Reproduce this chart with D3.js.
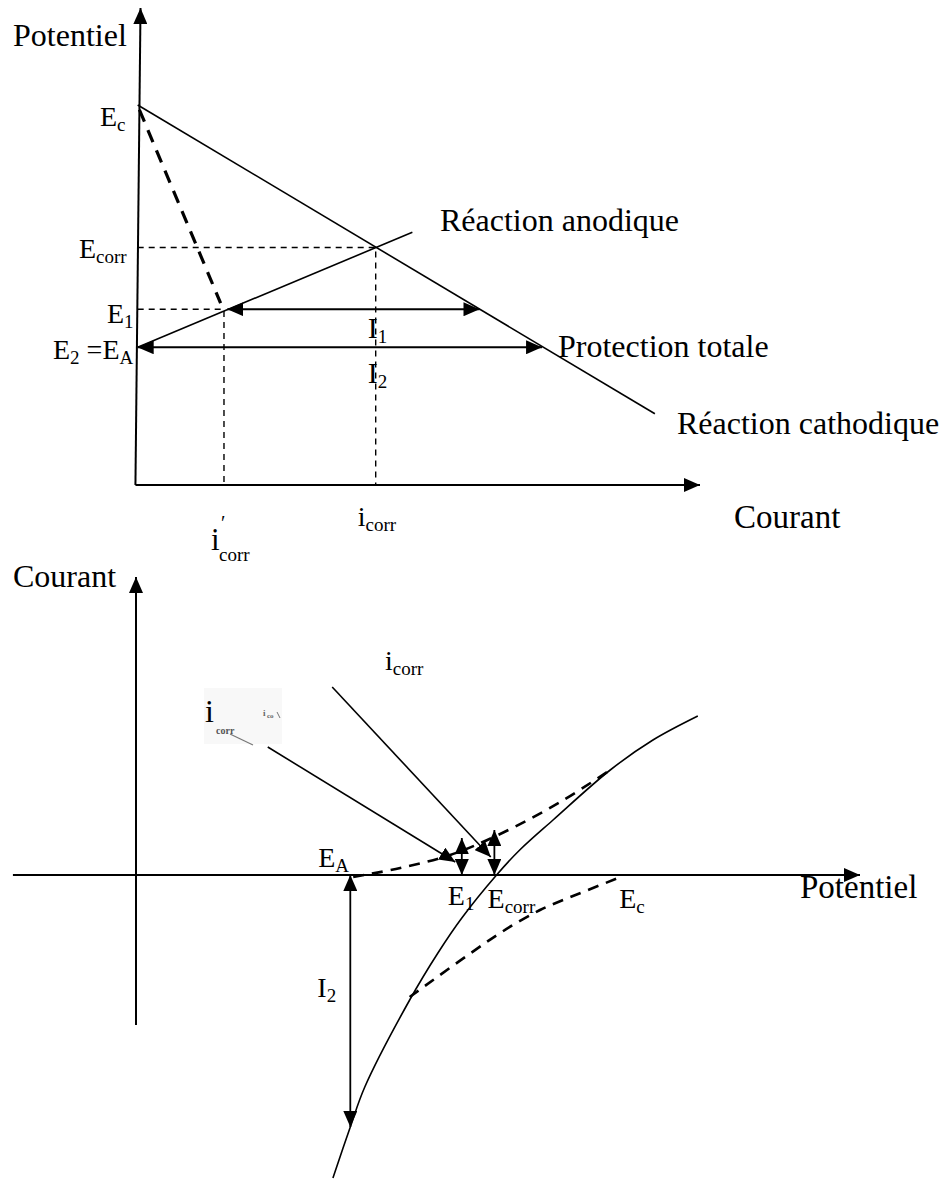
<!DOCTYPE html>
<html>
<head>
<meta charset="utf-8">
<script src="https://cdn.jsdelivr.net/npm/d3@7/dist/d3.min.js"></script>
<style>
  html, body { margin: 0; padding: 0; background: #fff; }
  svg text { font-family: "Liberation Serif", "Times New Roman", serif; fill: #000; }
</style>
</head>
<body>
<svg id="fig" width="944" height="1180"></svg>
<script>
// ---- Upper diagram: potential (E) versus current (i), Evans diagram ----
// Potential levels
const levelNames  = ["Ec", "Ecorr", "E1", "EA"];
const levelValues = [8.0, 5.0, 3.7, 2.9];
// Current values
const icorrValue      = 4.25;
const icorrPrimeValue = 1.56;
// Polarisation lines [current, potential]
const cathodicLine = [[0.03, 8.0], [9.2, 1.5]];
const anodicLine   = [[0.03, 2.9], [4.9, 5.32]];
const ohmicLine    = [[0.06, 7.9], [1.5, 3.83]];
// Current arrows at E1 and E2 = EA  [from, to]
const i1Arrow = [[1.62, 3.7], [6.09, 3.7]];
const i2Arrow = [[0.03, 2.9], [7.2, 2.9]];

// ---- Lower diagram: current versus potential ----
const bottomPotentials = {EA: 3.0, E1: 4.5, Ecorr: 4.98, Ec: 6.66};
const totalCurve = [[2.72, -6.06], [2.96, -5.04], [3.16, -4.24], [3.78, -2.5], [4.17, -1.56],
                    [4.5, -0.86], [4.98, 0], [5.3, 0.5], [5.76, 1.1], [6.55, 2.1], [7.14, 2.7], [7.76, 3.18]];
const anodicCurve  = [[3.0, -0.04], [3.65, 0.14], [4.34, 0.4], [5.03, 0.82], [5.86, 1.46], [6.55, 2.1]];
const cathodicCurve = [[3.78, -2.44], [5.03, -1.16], [5.58, -0.7], [5.9, -0.5], [6.66, -0.06]];
const e1Arrow    = [[4.5, 0], [4.5, 0.74]];
const ecorrArrow = [[4.95, 0], [4.95, 0.9]];
const i2Bottom   = [[2.96, 0], [2.96, -5.04]];
const pointerPrime = [[1.82, 2.56], [4.41, 0.26]];
const pointerCorr  = [[2.71, 3.76], [4.9, 0.36]];

const svg = d3.select("#fig");
const defs = svg.append("defs");
defs.append("marker")
  .attr("id", "head").attr("viewBox", "0 0 16 14")
  .attr("markerWidth", 16).attr("markerHeight", 14)
  .attr("markerUnits", "userSpaceOnUse")
  .attr("refX", 16).attr("refY", 7)
  .attr("orient", "auto-start-reverse")
  .append("path").attr("d", "M0,0 L16,7 L0,14 Z").attr("fill", "#000");

const FS = 28, SUB = 19, WORD = 32;

function label(g, x, y, parts, size) {
  // parts: [[text, "n"|"s"], ...]  n = normal, s = subscript
  const t = g.append("text").attr("x", x).attr("y", y).style("font-size", (size || FS) + "px");
  let shifted = false;
  parts.forEach(([s, kind]) => {
    const ts = t.append("tspan").text(s);
    if (kind === "s") { ts.style("font-size", SUB + "px"); if (!shifted) { ts.attr("dy", 5); shifted = true; } }
    else if (shifted) { ts.attr("dy", -5); shifted = false; }
  });
  return t;
}
function word(g, x, y, s, size) {
  return g.append("text").attr("x", x).attr("y", y).style("font-size", (size || WORD) + "px").text(s);
}

// ================= Upper diagram =================
const tx = d3.scaleLinear().domain([0, 10]).range([136, 700]);
const ty = d3.scaleLinear().domain([0, 10]).range([485, 10]);
const tLine = d3.line().x(d => tx(d[0])).y(d => ty(d[1]));
const topG = svg.append("g");
const lv = name => levelValues[levelNames.indexOf(name)];

// axes
topG.append("path").attr("d", tLine([[-0.01, 0], [10, 0]]))
  .attr("stroke", "#000").attr("stroke-width", 2).attr("fill", "none").attr("marker-end", "url(#head)");
topG.append("path").attr("d", tLine([[-0.01, 0], [0.08, 10.04]]))
  .attr("stroke", "#000").attr("stroke-width", 2).attr("fill", "none").attr("marker-end", "url(#head)");

// guide lines
const thinDash = "6,5";
topG.append("path").attr("d", tLine([[0.03, lv("Ecorr")], [icorrValue, lv("Ecorr")], [icorrValue, 0]]))
  .attr("stroke", "#000").attr("stroke-width", 1.4).attr("stroke-dasharray", thinDash).attr("fill", "none");
topG.append("path").attr("d", tLine([[0.03, lv("E1")], [icorrPrimeValue, lv("E1")], [icorrPrimeValue, 0]]))
  .attr("stroke", "#000").attr("stroke-width", 1.4).attr("stroke-dasharray", thinDash).attr("fill", "none");

// polarisation lines
topG.append("path").attr("d", tLine(cathodicLine)).attr("stroke", "#000").attr("stroke-width", 1.6).attr("fill", "none");
topG.append("path").attr("d", tLine(anodicLine)).attr("stroke", "#000").attr("stroke-width", 1.6).attr("fill", "none");
topG.append("path").attr("d", tLine(ohmicLine)).attr("stroke", "#000").attr("stroke-width", 3.2)
  .attr("stroke-dasharray", "13,9").attr("fill", "none");

// current arrows
[i1Arrow, i2Arrow].forEach(a => {
  topG.append("path").attr("d", tLine(a)).attr("stroke", "#000").attr("stroke-width", 1.8).attr("fill", "none")
    .attr("marker-start", "url(#head)").attr("marker-end", "url(#head)");
});

// labels
word(topG, 13, 46, "Potentiel");
label(topG, 100, ty(lv("Ec")) + 21, [["E", "n"], ["c", "s"]]);
label(topG, 79, ty(lv("Ecorr")) + 10, [["E", "n"], ["corr", "s"]]);
label(topG, 107, ty(lv("E1")) + 14, [["E", "n"], ["1", "s"]]);
label(topG, 53, ty(lv("EA")) + 12, [["E", "n"], ["2", "s"], [" =E", "n"], ["A", "s"]]);
label(topG, tx(icorrValue) - 8, ty(i1Arrow[0][1]) + 29, [["I", "n"], ["1", "s"]], 30);
label(topG, tx(icorrValue) - 8, ty(i2Arrow[0][1]) + 36, [["I", "n"], ["2", "s"]], 30);
word(topG, 440, 231, "Réaction anodique");
word(topG, 558, 357, "Protection totale");
word(topG, 677, 434, "Réaction cathodique");
word(topG, 734, 528, "Courant", 33);
label(topG, tx(icorrValue) - 18, 526, [["i", "n"], ["corr", "s"]]);
// i′corr
topG.append("text").attr("x", tx(icorrPrimeValue) - 13).attr("y", 550).style("font-size", "31px").text("i");
topG.append("text").attr("x", tx(icorrPrimeValue) - 3).attr("y", 530).style("font-size", "20px").text("′");
topG.append("text").attr("x", tx(icorrPrimeValue) - 5).attr("y", 561).style("font-size", SUB + "px").text("corr");

// ================= Lower diagram =================
const bx = d3.scaleLinear().domain([0, 10]).range([136, 860]);
const by = d3.scaleLinear().domain([-6, 6]).range([1175, 575]);
const bLine = d3.line().x(d => bx(d[0])).y(d => by(d[1]));
const bCurve = d3.line().x(d => bx(d[0])).y(d => by(d[1])).curve(d3.curveCatmullRom.alpha(0.5));
const botG = svg.append("g");

botG.append("path").attr("d", bLine([[-1.7, 0], [10, 0]]))
  .attr("stroke", "#000").attr("stroke-width", 2).attr("fill", "none").attr("marker-end", "url(#head)");
botG.append("path").attr("d", bLine([[0, -3], [0, 5.96]]))
  .attr("stroke", "#000").attr("stroke-width", 2).attr("fill", "none").attr("marker-end", "url(#head)");

botG.append("path").attr("d", bCurve(totalCurve)).attr("stroke", "#000").attr("stroke-width", 1.6).attr("fill", "none");
botG.append("path").attr("d", bCurve(anodicCurve)).attr("stroke", "#000").attr("stroke-width", 2.6)
  .attr("stroke-dasharray", "11,8").attr("fill", "none");
botG.append("path").attr("d", bCurve(cathodicCurve)).attr("stroke", "#000").attr("stroke-width", 2.6)
  .attr("stroke-dasharray", "11,8").attr("fill", "none");

// double arrows
[e1Arrow, ecorrArrow, i2Bottom].forEach(a => {
  botG.append("path").attr("d", bLine(a)).attr("stroke", "#000").attr("stroke-width", 1.8).attr("fill", "none")
    .attr("marker-start", "url(#head)").attr("marker-end", "url(#head)");
});
// pointer lines
[pointerPrime, pointerCorr].forEach(a => {
  botG.append("path").attr("d", bLine(a)).attr("stroke", "#000").attr("stroke-width", 1.6).attr("fill", "none")
    .attr("marker-end", "url(#head)");
});

// i′corr tag
botG.append("rect").attr("x", 204).attr("y", 688).attr("width", 78).attr("height", 56).attr("fill", "#f8f8f8");
botG.append("text").attr("x", 205).attr("y", 722).style("font-size", "32px").text("i");
botG.append("text").attr("x", 216).attr("y", 734).style("font-size", "10px").style("font-weight", "bold")
  .style("fill", "#555").text("corr");
botG.append("text").attr("x", 263).attr("y", 716).style("font-size", "9px").style("font-weight", "bold")
  .style("fill", "#666").text("i");
botG.append("text").attr("x", 267).attr("y", 718).style("font-size", "7px").style("font-weight", "bold")
  .style("fill", "#666").text("co");
botG.append("path").attr("d", "M230,734 L253,745").attr("stroke", "#777").attr("stroke-width", 1.2);
botG.append("path").attr("d", "M277,712 L280,718").attr("stroke", "#777").attr("stroke-width", 1);

// labels
word(botG, 13, 587, "Courant");
word(botG, 800, 898, "Potentiel", 33);
label(botG, 385, 670, [["i", "n"], ["corr", "s"]]);
label(botG, bx(bottomPotentials.EA) - 35, by(0) - 8, [["E", "n"], ["A", "s"]]);
label(botG, bx(bottomPotentials.E1) - 14, by(0) + 30, [["E", "n"], ["1", "s"]]);
label(botG, bx(bottomPotentials.Ecorr) - 9, by(0) + 33, [["E", "n"], ["corr", "s"]]);
label(botG, bx(bottomPotentials.Ec) + 1, by(0) + 33, [["E", "n"], ["c", "s"]]);
label(botG, bx(i2Bottom[0][0]) - 33, 997, [["I", "n"], ["2", "s"]]);
</script>
</body>
</html>
